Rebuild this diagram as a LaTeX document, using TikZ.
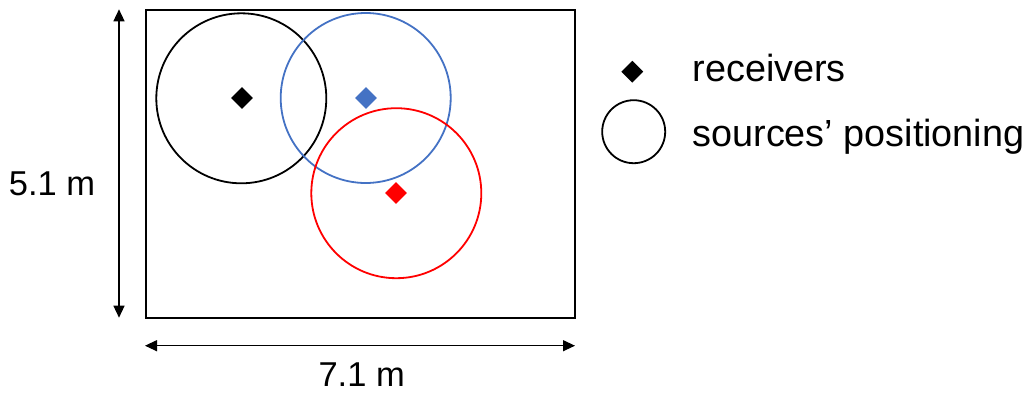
\documentclass[tikz,border=0pt]{standalone}
\usepackage{fontspec}
\setmainfont{Liberation Sans}
\usetikzlibrary{shapes.geometric,arrows.meta}
\definecolor{myblue}{HTML}{4472C4}
\definecolor{myred}{HTML}{FF0000}
\begin{document}
\begin{tikzpicture}[x=1pt,y=-1pt,
  ring/.style={circle,draw,line width=1.8pt,minimum size=170pt,inner sep=0pt},
  rcv/.style={diamond,fill,draw=none,minimum size=22pt,inner sep=0pt},
  dimarrow/.style={line width=1.3pt,{Triangle[length=12pt,width=11pt]}-{Triangle[length=12pt,width=11pt]}},
  lbl/.style={font=\fontsize{34.5}{42}\selectfont},
  leg/.style={font=\fontsize{37.8}{44}\selectfont,anchor=base west}]
\useasboundingbox (0,0) rectangle (1031,394);
\node[draw,line width=2pt,minimum width=429pt,minimum height=308pt,inner sep=0pt,anchor=north west] (room) at (145,8.5) {};
\node[ring,black] (cblack) at (241.3,98.3) {};
\node[ring,draw=myblue] (cblue) at (365.7,98) {};
\node[ring,draw=myred] (cred) at (396.3,193.2) {};
\node[rcv,fill=black] (dblack) at (242,98) {};
\node[rcv,fill=myblue] (dblue) at (366,98) {};
\node[rcv,fill=myred] (dred) at (396,193) {};
\coordinate (vtop) at (119,9.3);
\coordinate (vbot) at (119,317.7);
\draw[dimarrow] (vtop) -- (vbot);
\coordinate (hl) at (145,345.7);
\coordinate (hr) at (575,345.7);
\draw[dimarrow] (hl) -- (hr);
\node[lbl,anchor=base] (hlabel) at (361.7,386.7) {7.1 m};
\node[lbl,anchor=base] (vlabel) at (52,195) {5.1 m};
\node[rcv,fill=black] (legd) at (632.3,71.7) {};
\node[leg] (legdt) at (689,81.7) {receivers};
\node[circle,draw,line width=1.8pt,minimum size=63pt,inner sep=0pt] (legc) at (633.7,131.7) {};
\node[leg] (legct) at (689,146.7) {sources’ positioning};
\end{tikzpicture}
\end{document}
